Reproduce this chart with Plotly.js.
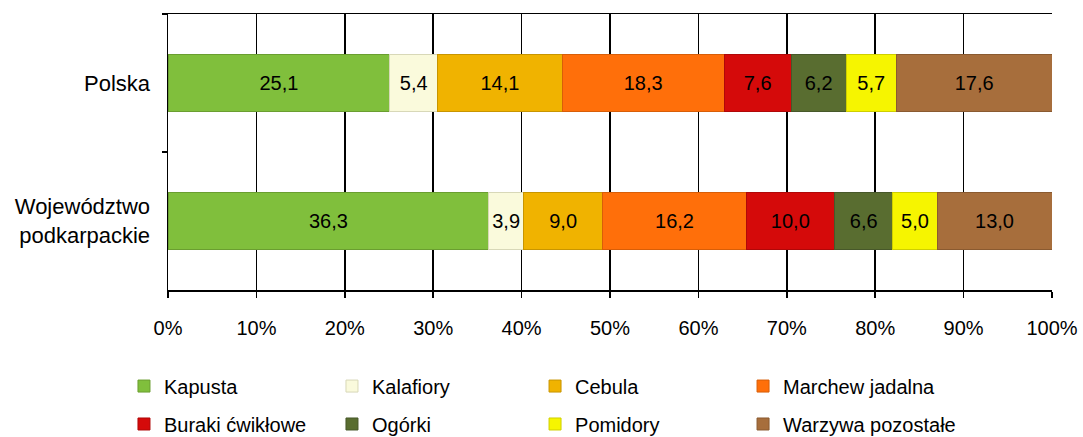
<!DOCTYPE html>
<html><head><meta charset="utf-8">
<script src="https://cdn.plot.ly/plotly-3.0.1.min.js"></script>
<style>html,body{margin:0;padding:0;background:#fff}#chart{width:1083px;height:437px}</style>
</head><body><div id="chart"></div>
<script>
const categories = ["Polska", "Województwo<br>podkarpackie"];
const seriesNames = ["Kapusta", "Kalafiory", "Cebula", "Marchew jadalna", "Buraki ćwikłowe", "Ogórki", "Pomidory", "Warzywa pozostałe"];
const kapusta = [25.1, 36.3];
const kalafiory = [5.4, 3.9];
const cebula = [14.1, 9.0];
const marchew = [18.3, 16.2];
const buraki = [7.6, 10.0];
const ogorki = [6.2, 6.6];
const pomidory = [5.7, 5.0];
const pozostale = [17.6, 13.0];
const xTickVals = [0,10,20,30,40,50,60,70,80,90,100];
const xTickLabels = ["0%","10%","20%","30%","40%","50%","60%","70%","80%","90%","100%"];

const values = [kapusta, kalafiory, cebula, marchew, buraki, ogorki, pomidory, pozostale];
const colors = ["#80BF3C", "#FAFADC", "#F0B300", "#FF6F0A", "#D50A0A", "#596D30", "#F6F500", "#A76E3C"];
const lineColors = ["#6A9E30", "#D8D8B8", "#C89500", "#D85E08", "#B00808", "#47582A", "#CFCF00", "#8A5A30"];
const FONT = "Liberation Sans, Arial, sans-serif";

// legend grid: 4 columns x 2 rows, one legend per entry
const legendColX = [-0.0498, 0.1855, 0.4152, 0.6505];
const legendRowY = [-0.348, -0.4855];

const traces = seriesNames.map((name, i) => ({
  type: "bar",
  orientation: "h",
  name: name,
  x: values[i],
  y: categories,
  marker: {color: colors[i], line: {color: lineColors[i], width: 1}},
  texttemplate: "%{x:.1f}",
  textposition: "inside",
  insidetextanchor: "middle",
  constraintext: "none",
  textfont: {family: FONT, size: 20, color: "#000"},
  hoverinfo: "skip",
  legend: i === 0 ? "legend" : "legend" + (i + 1)
}));

const layout = {
  width: 1083, height: 437,
  margin: {l: 168, r: 31, t: 14, b: 147, autoexpand: false},
  paper_bgcolor: "#fff", plot_bgcolor: "#fff",
  separators: ", ",
  barmode: "stack",
  bargap: 0.59,
  font: {family: FONT, size: 20, color: "#000"},
  showlegend: true,
  xaxis: {
    range: [0, 100], tickmode: "array", tickvals: xTickVals, ticktext: xTickLabels,
    showgrid: true, gridcolor: "#000", gridwidth: 1.5,
    showline: true, linecolor: "#000", linewidth: 1.5, mirror: true,
    ticks: "outside", ticklen: 6, tickcolor: "#000", tickwidth: 1.5,
    ticklabelstandoff: 13,
    zeroline: false, fixedrange: true,
    tickfont: {family: FONT, size: 20, color: "#000"}
  },
  yaxis: {
    type: "category", autorange: "reversed",
    showgrid: false,
    showline: true, linecolor: "#000", linewidth: 1.5,
    ticks: "outside", ticklen: 5, tickcolor: "#000", tickwidth: 1.5,
    tickson: "boundaries", ticklabelstandoff: 12,
    fixedrange: true,
    tickfont: {family: FONT, size: 22, color: "#000"}
  }
};

seriesNames.forEach((name, i) => {
  const key = i === 0 ? "legend" : "legend" + (i + 1);
  layout[key] = {
    orientation: "h",
    itemwidth: 30,
    font: {family: FONT, size: 20, color: "#000"},
    xanchor: "left",
    yanchor: "middle",
    x: legendColX[i % 4],
    y: legendRowY[Math.floor(i / 4)],
    bgcolor: "rgba(0,0,0,0)"
  };
});

Plotly.newPlot("chart", traces, layout, {displayModeBar: false, staticPlot: true});
</script></body></html>
